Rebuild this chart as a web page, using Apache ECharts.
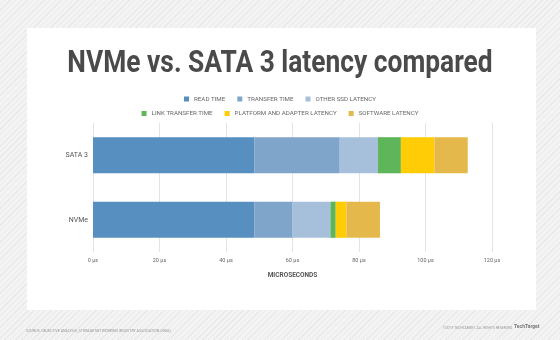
<!DOCTYPE html>
<html><head><meta charset="utf-8">
<script src="https://cdn.jsdelivr.net/npm/echarts@6/dist/echarts.min.js"></script>
<style>
html,body{margin:0;padding:0;}
body{width:560px;height:340px;background:#f1f1f1;
background-image:repeating-linear-gradient(135deg,#f3f3f3 0px,#f3f3f3 3px,#e9e9e9 3px,#e9e9e9 4px);}
#c{width:560px;height:340px;}
</style></head>
<body><div id="c"></div>
<script>
const titleText = 'NVMe vs. SATA 3 latency compared';
const categories = ['NVMe', 'SATA 3'];
const seriesNames = ['READ TIME', 'TRANSFER TIME', 'OTHER SSD LATENCY', 'LINK TRANSFER TIME', 'PLATFORM AND ADAPTER LATENCY', 'SOFTWARE LATENCY'];
const readTime = [48.5, 48.5];
const transferTime = [11.5, 25.7];
const otherSsd = [11.4, 11.5];
const linkTransfer = [1.6, 6.9];
const platformAdapter = [3.2, 10.1];
const softwareLatency = [10.1, 10.0];
const colors = ['#568fc0', '#80a5cb', '#a6bfdb', '#5fb65a', '#ffcc05', '#e5b84b'];
const xTicks = [0, 20, 40, 60, 80, 100, 120];

const values = [readTime, transferTime, otherSsd, linkTransfer, platformAdapter, softwareLatency];
const chart = echarts.init(document.getElementById('c'), null, {renderer: 'canvas'});
const lbl = {fontFamily: 'Roboto', fontSize: 6.2, color: '#666'};
chart.setOption({
  backgroundColor: 'transparent',
  animation: false,
  graphic: [
    {type: 'rect', z: -10, shape: {x: 27, y: 28, width: 509, height: 282}, style: {fill: '#ffffff'}},
    {type: 'text', x: 280, y: 49, scaleX: 0.85, originX: 0, originY: 0,
     style: {text: titleText, font: 'bold 31px Roboto', fill: '#4a4a4a', textAlign: 'center', textVerticalAlign: 'top'}},
    {type: 'text', left: 26, top: 329, style: {text: 'SOURCE: OBJECTIVE ANALYSIS, STORAGE NETWORKING INDUSTRY ASSOCIATION (SNIA)', font: '3.6px Roboto', fill: '#999'}},
    {type: 'text', left: 443, top: 327, style: {text: '©2019 TECHTARGET. ALL RIGHTS RESERVED', font: '3.4px Roboto', fill: '#999'}},
    {type: 'text', left: 514, top: 324, style: {text: 'TechTarget', font: 'bold 5px Roboto', fill: '#777'}}
  ],
  legend: [
    {data: seriesNames.slice(0, 3), top: 91, left: 'center', itemWidth: 5, itemHeight: 5, itemGap: 12,
     icon: 'rect', textStyle: lbl, selectedMode: false},
    {data: seriesNames.slice(3), top: 105.5, left: 'center', itemWidth: 5, itemHeight: 5, itemGap: 12,
     icon: 'rect', textStyle: lbl, selectedMode: false}
  ],
  grid: {left: 93, right: 68, top: 123, bottom: 88, containLabel: false},
  xAxis: {
    type: 'value', min: 0, max: 120, interval: 20,
    name: 'MICROSECONDS', nameLocation: 'middle', nameGap: 20,
    nameTextStyle: {fontFamily: 'Roboto', fontSize: 6.5, color: '#555', fontWeight: 'bold'},
    axisLine: {show: false}, axisTick: {show: false},
    axisLabel: {fontFamily: 'Roboto', fontSize: 5.5, color: '#666', margin: 6,
      formatter: v => xTicks.includes(v) ? v + ' µs' : ''},
    splitLine: {lineStyle: {color: '#e4e4e4', width: 1}}
  },
  yAxis: {
    type: 'category', data: categories,
    axisLine: {show: false}, axisTick: {show: false},
    axisLabel: {fontFamily: 'Roboto', fontSize: 7, color: '#555', margin: 5}
  },
  series: seriesNames.map((n, i) => ({
    name: n, type: 'bar', stack: 'total', data: values[i], barWidth: '56%',
    itemStyle: {color: colors[i]}
  }))
});
</script></body></html>
